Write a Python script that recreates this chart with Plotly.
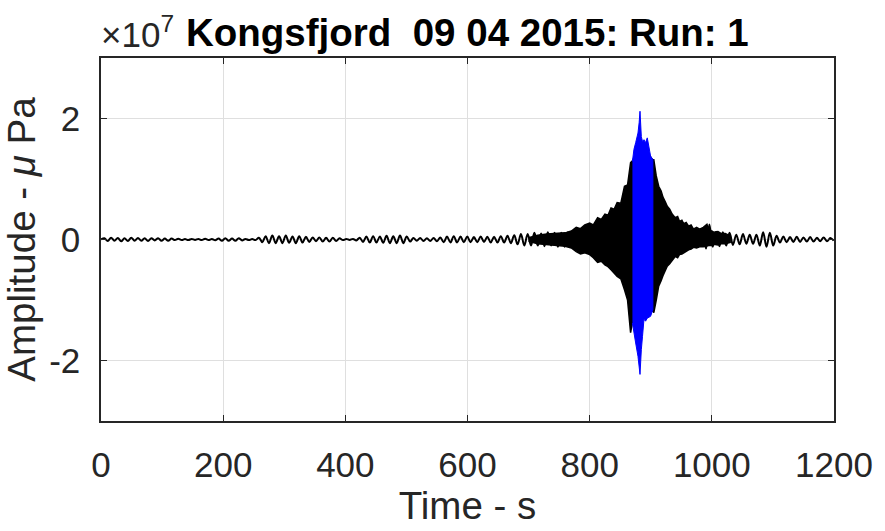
import plotly.graph_objects as go

# ---------------- data (amplitude in units of 1e7 µPa) ----------------
# decimated low-amplitude part of the record, sampled every 5.5 s from t = 0
early_dt = 5.5
early_vals = [
    0.00, 0.02, -0.025, 0.03, -0.02, 0.025, -0.03, 0.02, -0.025, 0.03, -0.02,
    0.025, -0.02, 0.02, -0.025, 0.02, -0.015, 0.02, -0.02, 0.015, -0.02, 0.015,
    -0.01, 0.012, -0.01, 0.008, -0.01, 0.01, -0.008, 0.01, -0.01, 0.012, -0.01, 0.01, -0.012,
    0.015, -0.02, 0.02, -0.02, 0.015, -0.02, 0.02, -0.015, 0.01,
    -0.01, 0.008, -0.01,
    0.03, -0.045, 0.055, -0.06, 0.065, -0.06, 0.055, -0.06, 0.065, -0.055, 0.05, -0.06, 0.055, -0.05, 0.045, -0.04,
    0.035, -0.03, 0.035, -0.035, 0.03, -0.035, 0.03, -0.025, 0.02,
    -0.01, 0.01, -0.008, 0.01, -0.015,
    0.03, -0.04, 0.05, -0.05, 0.055, -0.05, 0.05, -0.055, 0.06, -0.06, 0.055,
    -0.06, 0.065, -0.06, 0.05, -0.035,
    0.025, -0.02, 0.025, -0.025, 0.02, -0.025, 0.025, -0.03, 0.035,
    -0.045, 0.05, -0.05, 0.055, -0.05, 0.05, -0.045, 0.05, -0.045,
    0.04, -0.045, 0.05, -0.04, 0.045, -0.05, 0.045, -0.05, 0.055, -0.05, 0.06, -0.06, 0.07,
    -0.08, 0.09, -0.1, 0.09, -0.1, 0.11, -0.1, 0.1, -0.11, 0.12, -0.1, 0.11, -0.12, 0.11, -0.12, 0.13,
]

# envelope of the dense (unresolved) part of the record
env_t = [700, 715, 730, 745, 760, 770, 778, 785, 792, 800,
         806, 813, 819, 825, 830, 835, 840, 845, 851, 857,
         862, 867, 870, 880, 890, 903, 905, 909, 913, 917,
         920, 924, 927, 931, 935, 940, 944, 947, 951, 954,
         958, 962, 966, 970, 975, 980, 986, 992, 995, 1000,
         1003, 1010, 1015, 1022, 1030]
env_upper = [0.03, 0.07, 0.09, 0.10, 0.11, 0.14, 0.20, 0.18, 0.24, 0.27,
             0.24, 0.36, 0.33, 0.42, 0.40, 0.52, 0.50, 0.61, 0.60, 0.88,
             0.90, 1.27, 1.30, 1.50, 1.50, 1.32, 1.32, 1.05, 0.88, 0.80,
             0.70, 0.62, 0.55, 0.50, 0.42, 0.36, 0.38, 0.30, 0.32, 0.26,
             0.28, 0.22, 0.24, 0.17, 0.20, 0.17, 0.20, 0.25, 0.15, 0.14,
             0.12, 0.13, 0.10, 0.10, 0.06]
env_lower = [-0.03, -0.07, -0.09, -0.10, -0.11, -0.14, -0.20, -0.24, -0.22, -0.25,
             -0.30, -0.38, -0.36, -0.42, -0.45, -0.50, -0.55, -0.61, -0.65, -0.83,
             -1.00, -1.54, -1.37, -1.30, -1.30, -1.16, -1.21, -1.00, -0.77, -0.68,
             -0.60, -0.50, -0.44, -0.40, -0.35, -0.28, -0.30, -0.25, -0.24, -0.22,
             -0.20, -0.17, -0.16, -0.13, -0.14, -0.12, -0.12, -0.11, -0.10, -0.10,
             -0.08, -0.09, -0.07, -0.07, -0.05]

# highlighted window (blue)
blue_t = [870, 872.5, 875.3, 879.1, 881, 882.4, 884.6, 886.5, 888.9, 891.5, 894.3, 897, 899.7, 903.5]
blue_upper = [1.29, 1.49, 1.60, 1.76, 1.93, 2.12, 1.70, 1.62, 1.65, 1.60, 1.68, 1.50, 1.38, 1.32]
blue_lower = [-1.38, -1.55, -1.71, -1.93, -2.05, -2.23, -1.82, -1.60, -1.32, -1.35, -1.30, -1.28, -1.27, -1.16]

# decimated tail of the record, sampled every 5.5 s from t = 985
tail_t0 = 985
tail_dt = 5.5
tail_vals = [
    0.18, -0.15, 0.25,
    -0.12, 0.13, -0.11, 0.12, -0.10, 0.11,
    -0.09, 0.08, -0.08, 0.09, -0.07, 0.08, -0.07, 0.08,
    -0.10, 0.12, -0.12, 0.11, -0.10,
    0.06, -0.05, 0.05, -0.045, 0.04, -0.04, 0.045, -0.04, 0.035, -0.035, 0.04, -0.035, 0.03, -0.03, 0.035, -0.03, 0.025, -0.02,
]

x_ticks = [0, 200, 400, 600, 800, 1000, 1200]
y_ticks = [-2, 0, 2]
y_ticktext = ["-2", "0", "2"]

title_text = "Kongsfjord \u00a009 04 2015: Run: 1"
x_label = "Time - s"
y_label = "Amplitude - <i>\u03bc</i> Pa"

# ---------------- figure ----------------
early_t = [i * early_dt for i in range(len(early_vals))]
tail_t = [tail_t0 + i * tail_dt for i in range(len(tail_vals))]

fig = go.Figure()
fig.add_trace(go.Scatter(
    x=env_t + env_t[::-1], y=env_upper + env_lower[::-1],
    fill="toself", fillcolor="black", mode="lines",
    line=dict(color="black", width=1.5), hoverinfo="skip", showlegend=False))
fig.add_trace(go.Scatter(
    x=early_t, y=early_vals, mode="lines",
    line=dict(color="black", width=2, shape="spline"), showlegend=False))
fig.add_trace(go.Scatter(
    x=tail_t, y=tail_vals, mode="lines",
    line=dict(color="black", width=2, shape="spline"), showlegend=False))
fig.add_trace(go.Scatter(
    x=blue_t + blue_t[::-1], y=blue_upper + blue_lower[::-1],
    fill="toself", fillcolor="#0000ff", mode="lines",
    line=dict(color="#0000ff", width=1), hoverinfo="skip", showlegend=False))

axis_color = "#262626"
grid_color = "#dfdfdf"
font_family = "Liberation Sans, Arial, Helvetica, sans-serif"

fig.update_layout(
    width=885, height=531,
    margin=dict(l=100, r=47, t=58, b=109),
    paper_bgcolor="white", plot_bgcolor="white",
    font=dict(family=font_family, size=35, color=axis_color),
    xaxis=dict(
        range=[0, 1200], tickvals=x_ticks, ticktext=[str(v) for v in x_ticks],
        showgrid=True, gridcolor=grid_color, gridwidth=1,
        zeroline=False, showline=True, linecolor=axis_color, linewidth=1.5,
        mirror="ticks", ticks="inside", ticklen=6, tickcolor=axis_color, tickwidth=1.2,
        tickfont=dict(size=35, color=axis_color), ticklabelstandoff=12,
        title=dict(text=x_label, font=dict(size=38.5, color=axis_color), standoff=8),
    ),
    yaxis=dict(
        range=[-3, 3], tickvals=y_ticks, ticktext=y_ticktext,
        showgrid=True, gridcolor=grid_color, gridwidth=1,
        zeroline=False, showline=True, linecolor=axis_color, linewidth=1.5,
        mirror="ticks", ticks="inside", ticklen=6, tickcolor=axis_color, tickwidth=1.2,
        tickfont=dict(size=35, color=axis_color), ticklabelstandoff=12,
        title=dict(text=y_label, font=dict(size=38.5, color=axis_color), standoff=10),
    ),
    annotations=[
        dict(text="<b>" + title_text + "</b>", xref="paper", yref="paper",
             x=0.5, y=1, xanchor="center", yanchor="bottom", yshift=2, showarrow=False,
             font=dict(size=38.5, color="black", family=font_family)),
        dict(text="\u00d710<sup>7</sup>", xref="paper", yref="paper",
             x=0, y=1, xanchor="left", yanchor="bottom", yshift=2, xshift=-2, showarrow=False,
             font=dict(size=35, color=axis_color, family=font_family)),
    ],
)

fig.write_html("out.html")
